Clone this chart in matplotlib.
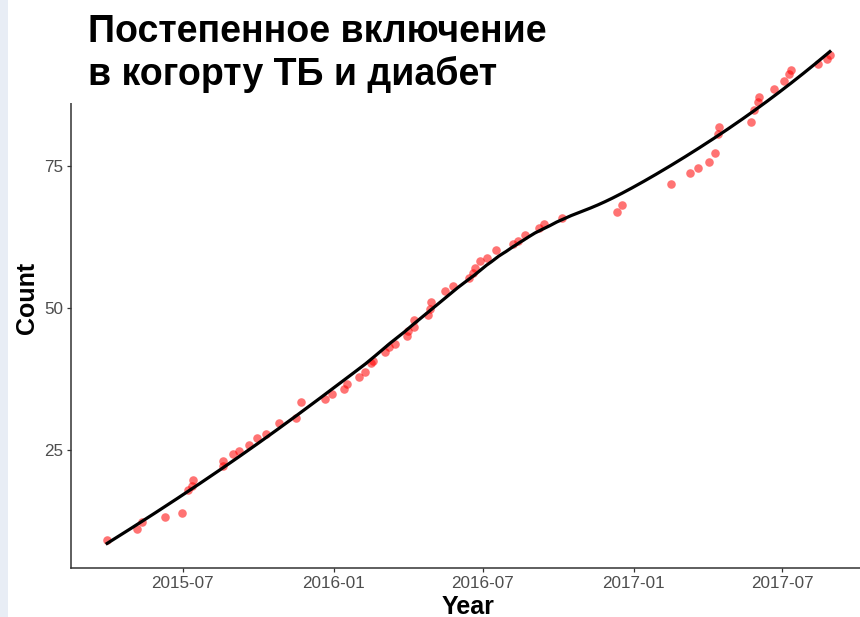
import numpy as np
import matplotlib
matplotlib.use('Agg')
from matplotlib import pyplot as plt
import matplotlib.dates as mdates
from matplotlib.patches import Rectangle

plt.rcParams['font.family'] = ['Liberation Sans', 'DejaVu Sans']

title_lines = ['Постепенное включение', 'в когорту ТБ и диабет']
x_label = 'Year'
y_label = 'Count'

dates = [
    '2015-03-31', '2015-05-07', '2015-05-12', '2015-06-09', '2015-06-30',
    '2015-07-08', '2015-07-12', '2015-07-14', '2015-08-19', '2015-08-19',
    '2015-09-01', '2015-09-08', '2015-09-20', '2015-09-30', '2015-10-11',
    '2015-10-26', '2015-11-16', '2015-11-22', '2015-12-22', '2015-12-30',
    '2016-01-14', '2016-01-17', '2016-02-01', '2016-02-08', '2016-02-16',
    '2016-02-18', '2016-03-04', '2016-03-09', '2016-03-16', '2016-03-30',
    '2016-04-01', '2016-04-08', '2016-04-08', '2016-04-25', '2016-04-27',
    '2016-04-29', '2016-05-16', '2016-05-25', '2016-06-14', '2016-06-19',
    '2016-06-22', '2016-06-27', '2016-07-06', '2016-07-17', '2016-08-07',
    '2016-08-13', '2016-08-21', '2016-09-07', '2016-09-14', '2016-10-05',
    '2016-12-12', '2016-12-18', '2017-02-15', '2017-03-10', '2017-03-20',
    '2017-04-03', '2017-04-10', '2017-04-14', '2017-04-15', '2017-05-24',
    '2017-05-28', '2017-06-01', '2017-06-03', '2017-06-21', '2017-07-03',
    '2017-07-09', '2017-07-12', '2017-08-14', '2017-08-24', '2017-08-28',
]
counts = [
    9.2, 11.1, 12.4, 13.2, 13.9,
    18.0, 18.7, 19.8, 23.0, 22.2,
    24.3, 24.8, 25.9, 27.2, 27.8,
    29.7, 30.7, 33.4, 34.0, 34.9,
    35.8, 36.7, 37.8, 38.8, 40.3,
    40.7, 42.2, 43.2, 43.7, 45.1,
    45.9, 46.7, 47.9, 48.8, 49.8,
    51.1, 52.9, 53.9, 55.2, 56.2,
    57.0, 58.2, 58.8, 60.2, 61.2,
    61.8, 62.8, 64.0, 64.8, 65.9,
    66.8, 68.2, 71.9, 73.8, 74.6,
    75.7, 77.3, 80.7, 81.9, 82.8,
    84.8, 86.3, 87.2, 88.6, 90.0,
    91.2, 91.9, 92.9, 93.8, 94.6,
]


def loess(x, y, x_new, span=0.75):
    # local quadratic fit with tricube weights (like ggplot's default smoother)
    n = len(x)
    q = int(np.floor(n * span))
    out = []
    for x0 in x_new:
        d = np.abs(x - x0)
        h = np.sort(d)[q - 1]
        w = np.clip(1 - (d / h) ** 3, 0, None) ** 3
        A = np.vstack([np.ones_like(x), x - x0, (x - x0) ** 2]).T
        W = np.sqrt(w)
        coef, *_ = np.linalg.lstsq(A * W[:, None], y * W, rcond=None)
        out.append(coef[0])
    return np.array(out)


x = mdates.date2num(np.array(dates, dtype='datetime64[D]'))
y = np.array(counts)

x_smooth = np.linspace(x.min(), x.max(), 300)
y_smooth = loess(x / 100, y, x_smooth / 100)

W, H = 860, 617
fig = plt.figure(figsize=(W / 100, H / 100), dpi=100)
ax = fig.add_axes([71 / W, 1 - 568 / H, 795 / W, (568 - 27) / H])

ax.scatter(x, y, s=38, color='red', alpha=0.55, linewidths=0, zorder=2)
ax.plot(x_smooth, y_smooth, color='black', lw=2.3, zorder=3)

x_pad = (x.max() - x.min()) * 0.05
ax.set_xlim(x.min() - x_pad, x.max() + x_pad)
y_lo = min(y.min(), y_smooth.min())
y_hi = max(y.max(), y_smooth.max())
y_pad = (y_hi - y_lo) * 0.05
ax.set_ylim(y_lo - y_pad, y_hi + y_pad)

ax.xaxis.set_major_locator(mdates.MonthLocator(bymonth=[1, 7]))
ax.xaxis.set_major_formatter(mdates.DateFormatter('%Y-%m'))
ax.set_yticks([25, 50, 75])

for side in ['top', 'right']:
    ax.spines[side].set_visible(False)
for side in ['left', 'bottom']:
    ax.spines[side].set_color('#333333')
    ax.spines[side].set_linewidth(1.1)
ax.tick_params(length=3, width=0.9, color='#333333', labelcolor='#4d4d4d',
               labelsize=12.3, pad=2.5)

ax.set_xlabel(x_label, fontsize=18, fontweight='bold', labelpad=3)
ax.set_ylabel(y_label, fontsize=18, fontweight='bold', labelpad=4)

# light strip on the slide's left edge
fig.add_artist(Rectangle((0, 0), 8 / W, 1, transform=fig.transFigure,
                         facecolor='#e8edf5', edgecolor='none', zorder=6))
# white title box lying over the top of the plot
fig.add_artist(Rectangle((8 / W, 1 - 103 / H), 680 / W, 103 / H,
                         transform=fig.transFigure, facecolor='white',
                         edgecolor='none', zorder=5))
for line, base in zip(title_lines, [42, 85]):
    fig.text(88 / W, 1 - base / H, line, fontsize=27, fontweight='bold',
             va='baseline', ha='left', zorder=7)

fig.savefig('out.png', dpi=100)
